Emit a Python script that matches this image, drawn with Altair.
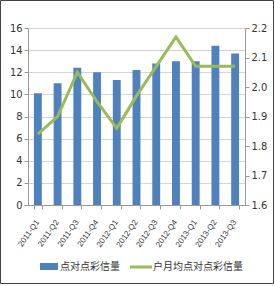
import altair as alt
import pandas as pd

quarters = ["2011-Q1", "2011-Q2", "2011-Q3", "2011-Q4", "2012-Q1", "2012-Q2",
            "2012-Q3", "2012-Q4", "2013-Q1", "2013-Q2", "2013-Q3"]
volume = [10.1, 11.0, 12.4, 12.0, 11.3, 12.2, 12.8, 13.0, 13.0, 14.4, 13.7]
per_user = [1.84, 1.90, 2.05, 1.95, 1.86, 1.97, 2.07, 2.17, 2.07, 2.07, 2.07]
bar_name = "点对点彩信量"
line_name = "户月均点对点彩信量"

df = pd.DataFrame({"q": quarters, "v": volume, "u": per_user})

W, H = 217, 177
FONT = "Liberation Sans Narrow, DejaVu Sans Condensed, sans-serif"
LFONT = "Liberation Sans"
CJK = "Noto Sans CJK SC"
BLUE = "#4F81BD"
GREEN = "#9BBB59"

xscale = alt.Scale(paddingInner=0.6, paddingOuter=0.3)
x = alt.X("q:N", sort=quarters, title=None, scale=xscale,
          axis=alt.Axis(labels=False, tickBand="extent", tickSize=4, tickColor="#999",
                        domainColor="#999"))

bars = alt.Chart(df).mark_bar(color=BLUE).encode(
    x=x,
    y=alt.Y("v:Q", title=None,
            scale=alt.Scale(domain=[0, 16], nice=False),
            axis=alt.Axis(values=[0, 2, 4, 6, 8, 10, 12, 14, 16], grid=True,
                          gridColor="#d4d4d4", domainColor="#999", tickColor="#999",
                          tickSize=4, labelFontSize=11, labelFont=FONT,
                          labelColor="#333", labelPadding=2)),
)

xlabels = alt.Chart(df).mark_text(
    angle=305, align="right", baseline="middle", font=LFONT, fontSize=8,
    color="#333", clip=False).encode(
    x=alt.X("q:N", sort=quarters), y=alt.value(H + 16), text="q:N")

line = alt.Chart(df).mark_line(color=GREEN, strokeWidth=3).encode(
    x=alt.X("q:N", sort=quarters),
    y=alt.Y("u:Q", title=None,
            scale=alt.Scale(domain=[1.6, 2.2], nice=False, zero=False),
            axis=alt.Axis(orient="right", values=[1.6, 1.7, 1.8, 1.9, 2.0, 2.1, 2.2],
                          format=".1f", grid=False, domainColor="#999",
                          tickColor="#999", tickSize=4, labelFontSize=11,
                          labelFont=FONT, labelColor="#333", labelPadding=2)),
)

leg = pd.DataFrame({"k": [bar_name, line_name]})
leg_rect = alt.Chart(leg).transform_filter(alt.datum.k == bar_name).mark_rect(color=BLUE).encode(
    x=alt.value(12), x2=alt.value(30), y=alt.value(235), y2=alt.value(242))
leg_line = alt.Chart(leg).transform_filter(alt.datum.k == line_name).mark_rule(
    color=GREEN, strokeWidth=3).encode(
    x=alt.value(102), x2=alt.value(124), y=alt.value(239))
leg_t1 = alt.Chart(leg).transform_filter(alt.datum.k == bar_name).mark_text(
    align="left", baseline="middle", font=CJK, fontSize=10, color="#333").encode(
    x=alt.value(32), y=alt.value(239), text="k:N")
leg_t2 = alt.Chart(leg).transform_filter(alt.datum.k == line_name).mark_text(
    align="left", baseline="middle", font=CJK, fontSize=10, color="#333").encode(
    x=alt.value(125), y=alt.value(239), text="k:N")
border = alt.Chart(leg).transform_filter(alt.datum.k == bar_name).mark_rect(
    fill=None, stroke="#444", strokeWidth=1, clip=False).encode(
    x=alt.value(-27.5), x2=alt.value(245.5), y=alt.value(-27.5), y2=alt.value(255.5))

chart = alt.layer(bars, xlabels, line, leg_rect, leg_line, leg_t1, leg_t2, border).resolve_scale(
    y="independent"
).properties(
    width=W, height=H,
    autosize=alt.AutoSizeParams(type="none"),
    padding={"left": 28, "top": 28, "right": 30, "bottom": 81},
    background="white",
).configure_view(stroke=None)

chart.save("out.html", embed_options={"renderer": "svg", "actions": False})
